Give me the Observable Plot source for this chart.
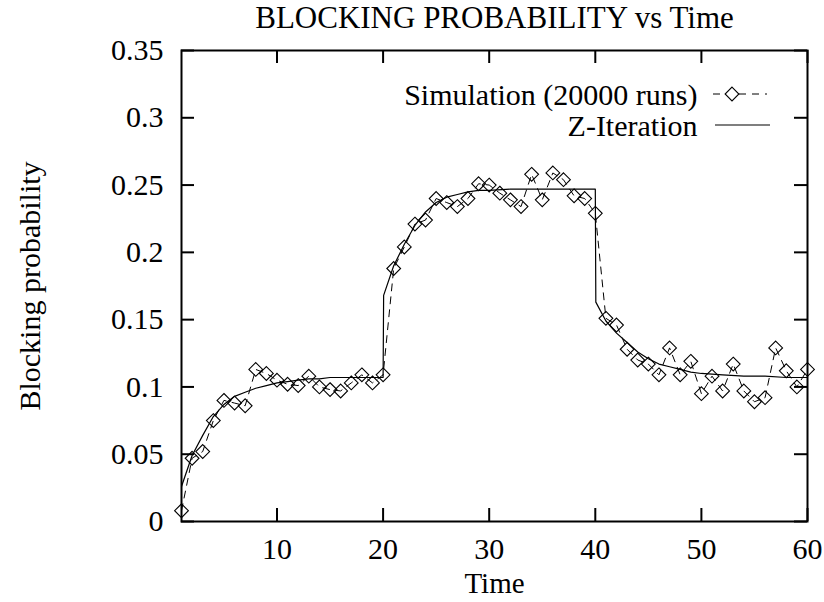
<!DOCTYPE html>
<html>
<head>
<meta charset="utf-8">
<script src="https://cdn.jsdelivr.net/npm/d3@7"></script>
<script src="https://cdn.jsdelivr.net/npm/@observablehq/plot@0.6"></script>
<style>
  html, body { margin: 0; padding: 0; background: white; }
  #chart svg { display: block; }
</style>
</head>
<body>
<div id="chart"></div>
<script>
// ---- Data ----
const simT = [1,2,3,4,5,6,7,8,9,10,11,12,13,14,15,16,17,18,19,20,21,22,23,24,25,26,27,28,29,30,31,32,33,34,35,36,37,38,39,40,41,42,43,44,45,46,47,48,49,50,51,52,53,54,55,56,57,58,59,60];
const simY = [0.008,0.047,0.052,0.075,0.090,0.088,0.086,0.113,0.110,0.105,
              0.102,0.101,0.108,0.100,0.098,0.097,0.103,0.109,0.103,0.109,
              0.188,0.204,0.221,0.224,0.240,0.237,0.234,0.240,0.251,0.250,
              0.244,0.239,0.234,0.258,0.239,0.259,0.254,0.242,0.240,0.229,
              0.151,0.146,0.128,0.120,0.117,0.109,0.129,0.109,0.119,0.095,
              0.108,0.097,0.117,0.097,0.089,0.092,0.129,0.112,0.100,0.113];
const zT = [1,2,3,4,5,6,7,8,9,10,11,12,13,14,15,16,17,18,19,20,20.05,21,22,23,24,25,26,27,28,29,30,32,34,36,38,40,40.05,41,42,43,44,45,46,47,48,49,50,52,54,56,58,60];
const zY = [0.026,0.049,0.064,0.078,0.087,0.093,0.096,0.099,0.101,0.103,
            0.104,0.105,0.106,0.106,0.107,0.107,0.107,0.107,0.107,0.107,
            0.168,0.190,0.206,0.220,0.230,0.237,0.241,0.243,0.245,0.246,0.246,
            0.247,0.247,0.247,0.247,0.247,
            0.163,0.149,0.140,0.133,0.126,0.121,0.117,0.115,0.113,0.111,0.110,
            0.109,0.108,0.108,0.107,0.107];
const xTicks = [10,20,30,40,50,60];
const xTickLabels = ["10","20","30","40","50","60"];
const yTicks = [0,0.05,0.1,0.15,0.2,0.25,0.3,0.35];
const yTickLabels = ["0","0.05","0.1","0.15","0.2","0.25","0.3","0.35"];
const seriesNames = ["Simulation (20000 runs)", "Z-Iteration"];
const titleText = "BLOCKING PROBABILITY vs Time";
const xLabel = "Time";
const yLabel = "Blocking probability";

const sim = simT.map((t, i) => ({t, v: simY[i]}));
const z = zT.map((t, i) => ({t, v: zY[i]}));

const W = 824, H = 602;
const mL = 181, mR = 17, mT = 50, mB = 81;
const fw = W - mL - mR, fh = H - mT - mB;
const tickLen = 13;
const FONT = "'Liberation Serif', 'Times New Roman', serif";
const legDy1 = 45, legDy2 = 76;

const plot = Plot.plot({
  width: W, height: H,
  marginLeft: mL, marginRight: mR, marginTop: mT, marginBottom: mB,
  style: {fontFamily: FONT, fontSize: "30px", background: "white", color: "black", overflow: "visible"},
  x: {domain: [1, 60], axis: null},
  y: {domain: [0, 0.35], axis: null},
  marks: [
    // Z-Iteration curve
    Plot.line(z, {x: "t", y: "v", stroke: "black", strokeWidth: 1.2, clip: true}),
    // Simulation dashed line + diamonds
    Plot.line(sim, {x: "t", y: "v", stroke: "black", strokeWidth: 1, strokeDasharray: "7,6", clip: true}),
    Plot.dot(sim, {x: "t", y: "v", symbol: "diamond2", r: 6.2, stroke: "black", strokeWidth: 1.1, fill: "none"}),
    // inward ticks (bottom, top, left, right)
    Plot.tickX(xTicks, {x: d => d, insetTop: fh - tickLen, stroke: "black", strokeWidth: 2}),
    Plot.tickX(xTicks, {x: d => d, insetBottom: fh - tickLen, stroke: "black", strokeWidth: 2}),
    Plot.tickY(yTicks, {y: d => d, insetRight: fw - tickLen, stroke: "black", strokeWidth: 2}),
    Plot.tickY(yTicks, {y: d => d, insetLeft: fw - tickLen, stroke: "black", strokeWidth: 2}),
    Plot.frame({stroke: "black", strokeWidth: 2}),
    // tick labels
    Plot.text(xTicks, {x: d => d, frameAnchor: "bottom", dy: 28, text: (d, i) => xTickLabels[i], fontSize: 30, fill: "black", lineAnchor: "middle"}),
    Plot.text(yTicks, {y: d => d, frameAnchor: "left", dx: -18, textAnchor: "end", text: (d, i) => yTickLabels[i], fontSize: 30, fill: "black"}),
    // axis labels & title
    Plot.text([xLabel], {frameAnchor: "bottom", dy: 62, text: d => d, fontSize: 29, fill: "black", lineAnchor: "middle"}),
    Plot.text([yLabel], {frameAnchor: "left", dx: -151, rotate: -90, textAnchor: "middle", text: d => d, fontSize: 30, fill: "black", lineAnchor: "middle"}),
    Plot.text([titleText], {frameAnchor: "top", dy: -32, text: d => d, fontSize: 31, fill: "black", lineAnchor: "middle"}),
    // legend labels
    Plot.text([seriesNames[0]], {frameAnchor: "top-right", dx: -110, dy: legDy1, textAnchor: "end", text: d => d, fontSize: 30, fill: "black", lineAnchor: "middle"}),
    Plot.text([seriesNames[1]], {frameAnchor: "top-right", dx: -110, dy: legDy2, textAnchor: "end", text: d => d, fontSize: 30, fill: "black", lineAnchor: "middle"})
  ]
});

// legend samples (drawn relative to the plot frame)
const svg = d3.select(plot);
const lg = svg.append("g").attr("fill", "none").attr("stroke", "black");
const rightX = mL + fw;
const y1 = mT + legDy1 - 1, y2 = mT + legDy2 - 1;
lg.append("line").attr("x1", rightX - 94).attr("x2", rightX - 40).attr("y1", y1).attr("y2", y1)
  .attr("stroke-width", 1).attr("stroke-dasharray", "7,6");
lg.append("path").attr("transform", `translate(${rightX - 75},${y1})`)
  .attr("d", d3.symbol(d3.symbolDiamond2, Math.PI * 6.2 * 6.2)()).attr("stroke-width", 1.1).attr("fill", "white");
lg.append("line").attr("x1", rightX - 92).attr("x2", rightX - 37).attr("y1", y2).attr("y2", y2)
  .attr("stroke-width", 1.2);

document.getElementById("chart").appendChild(plot);
</script>
</body>
</html>
